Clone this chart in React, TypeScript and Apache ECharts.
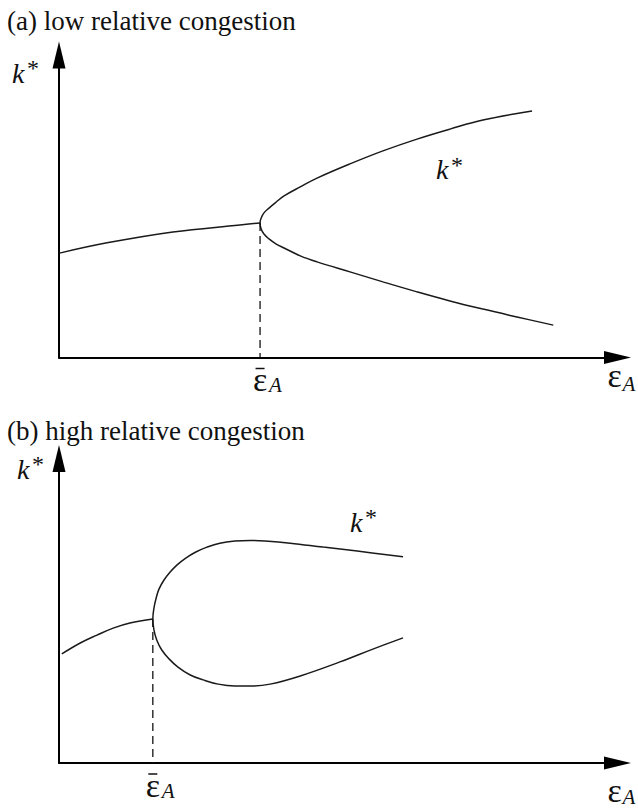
import React, { useEffect, useRef } from "react";
import * as echarts from "echarts";

const SERIF = "'Liberation Serif', 'Times New Roman', serif";

// (a) low relative congestion: one equilibrium, then a fork at the threshold
const stemA: number[][] = [[0.1, 34.5], [8.6, 37.9], [20.4, 41.5], [32.4, 43.8], [36.0, 44.5]];
const upperA: number[][] = [[36.0, 44.5], [36.2, 46.1], [36.7, 47.8], [37.6, 49.4], [38.9, 51.4], [40.3, 53.4], [43.2, 56.4], [46.2, 59.3], [52.1, 64.0], [58.0, 68.3], [64.1, 72.2], [70.0, 75.5], [75.9, 78.5], [84.7, 81.5]];
const lowerA: number[][] = [[36.0, 44.5], [36.2, 42.5], [36.7, 40.8], [37.6, 39.2], [38.9, 37.5], [40.3, 36.2], [43.2, 33.6], [46.2, 31.6], [52.1, 28.3], [58.0, 25.0], [64.1, 21.7], [70.0, 18.7], [75.9, 16.0], [82.0, 13.4], [88.5, 10.7]];
const thresholdA = 36.0;
const kLabelA = [67.5, 62];

// (b) high relative congestion: the fork closes into a loop
const stemB: number[][] = [[0.5, 35.8], [3.8, 39.4], [6.8, 42.0], [9.7, 44.3], [12.7, 46.0], [16.8, 47.3]];
const upperB: number[][] = [[16.8, 47.3], [17.0, 50.9], [17.4, 54.2], [17.9, 57.1], [18.8, 60.1], [19.9, 62.7], [21.1, 65.0], [22.7, 67.3], [24.5, 69.3], [26.5, 70.9], [28.8, 72.2], [31.5, 72.9], [34.2, 73.1], [36.9, 72.9], [41.4, 72.2], [47.3, 70.9], [53.4, 69.6], [61.6, 67.7]];
const lowerB: number[][] = [[16.8, 47.3], [17.0, 43.7], [17.5, 40.4], [18.4, 37.1], [19.7, 34.2], [21.3, 31.5], [23.5, 28.9], [25.8, 27.3], [28.5, 25.9], [31.5, 25.3], [34.6, 25.3], [37.8, 25.9], [43.2, 28.6], [50.3, 33.2], [56.2, 37.4], [61.6, 41.1]];
const thresholdB = 16.8;
const kLabelB = [52.1, 79];

const titles = ["(a) low relative congestion", "(b) high relative congestion"];

// upper branch run backwards into the lower one, so the vertex is one smooth turn
const fork = (upper: number[][], lower: number[][]) => [...upper.slice().reverse(), ...lower.slice(1)];

const curveStyle = { color: "#1a1a1a", width: 1.5 };

export default function App() {
  const ref = useRef<HTMLDivElement>(null);

  useEffect(() => {
    document.body.style.margin = "0";
    const chart = echarts.init(ref.current!, null, { renderer: "svg" });

    const axisLine = {
      show: true,
      onZero: false,
      symbol: ["none", "triangle"],
      symbolSize: [13, 27],
      lineStyle: { color: "#000", width: 2 },
    };
    const hidden = { axisTick: { show: false }, axisLabel: { show: false }, splitLine: { show: false } };
    const xAxis = (g: number) => ({ type: "value", gridIndex: g, min: 0, max: 100, axisLine, ...hidden });
    const yAxis = (g: number) => ({ type: "value", gridIndex: g, min: 0, max: 100, axisLine, ...hidden });

    const line = (g: number, data: number[][], smooth = 0.4) => ({
      type: "line",
      xAxisIndex: g,
      yAxisIndex: g,
      data,
      smooth,
      symbol: "none",
      lineStyle: curveStyle,
      silent: true,
    });
    const dashed = (g: number, x: number, y: number) => ({
      type: "line",
      xAxisIndex: g,
      yAxisIndex: g,
      data: [[x, y], [x, 0]],
      symbol: "none",
      lineStyle: { color: "#111", width: 1.3, type: [8, 5] },
      silent: true,
    });

    chart.setOption({
      animation: false,
      grid: [
        { left: 59, top: 55, width: 558.5, height: 302.5 },
        { left: 59, top: 458.5, width: 558.5, height: 304.5 },
      ],
      xAxis: [xAxis(0), xAxis(1)],
      yAxis: [yAxis(0), yAxis(1)],
      series: [
        line(0, stemA),
        line(0, fork(upperA, lowerA)),
        dashed(0, thresholdA, stemA[stemA.length - 1][1]),
        line(1, stemB),
        line(1, fork(upperB, lowerB)),
        dashed(1, thresholdB, stemB[stemB.length - 1][1]),
      ],
    });

    const px = (g: number, pt: number[]) => chart.convertToPixel({ gridIndex: g }, pt) as number[];
    const txt = (x: number, y: number, text: string, size: number, italic = false, align = "left") => ({
      type: "text",
      x,
      y,
      silent: true,
      style: {
        text,
        fontSize: size,
        fontFamily: SERIF,
        fontStyle: italic ? "italic" : "normal",
        fill: "#111",
        align,
        verticalAlign: "middle",
        textAlign: align,
        textVerticalAlign: "middle",
      },
    });

    const titleY = [20.5, 430.5];
    const kAxis = [[12, 73], [17, 469]];
    const nameDy = [[17.5, 26.5], [27, 34]];

    const graphic: any[] = [];
    [0, 1].forEach((g) => {
      const origin = px(g, [0, 0]);
      const end = px(g, [100, 0]);
      const thr = px(g, [g === 0 ? thresholdA : thresholdB, 0]);
      const kl = px(g, g === 0 ? kLabelA : kLabelB);
      // panel title
      graphic.push(txt(7, titleY[g], titles[g], 27));
      // vertical axis name k*
      graphic.push(txt(kAxis[g][0], kAxis[g][1], "k", 28, true));
      graphic.push(txt(kAxis[g][0] + 15, kAxis[g][1] - 5, "*", 24));
      // horizontal axis name εA
      graphic.push(txt(end[0] - 10, origin[1] + nameDy[g][0], "ε", 34));
      graphic.push(txt(end[0] + 5, origin[1] + nameDy[g][1], "A", 21, true));
      // threshold label under the dashed line: ε with a bar, subscript A
      graphic.push(txt(thr[0], origin[1] + 22, "ε", 34, false, "center"));
      graphic.push({
        type: "line",
        silent: true,
        shape: { x1: thr[0] - 4.5, y1: origin[1] + 11, x2: thr[0] + 4.5, y2: origin[1] + 11 },
        style: { stroke: "#111", lineWidth: 1.5 },
      });
      graphic.push(txt(thr[0] + 9, origin[1] + 27.5, "A", 21, true));
      // curve label
      graphic.push(txt(kl[0], kl[1], "k", 28, true));
      graphic.push(txt(kl[0] + 15, kl[1] - 5, "*", 24));
    });
    chart.setOption({ graphic });

    return () => chart.dispose();
  }, []);

  return <div ref={ref} style={{ position: "absolute", left: 0, top: 0, width: 638, height: 809, background: "#fff" }} />;
}
